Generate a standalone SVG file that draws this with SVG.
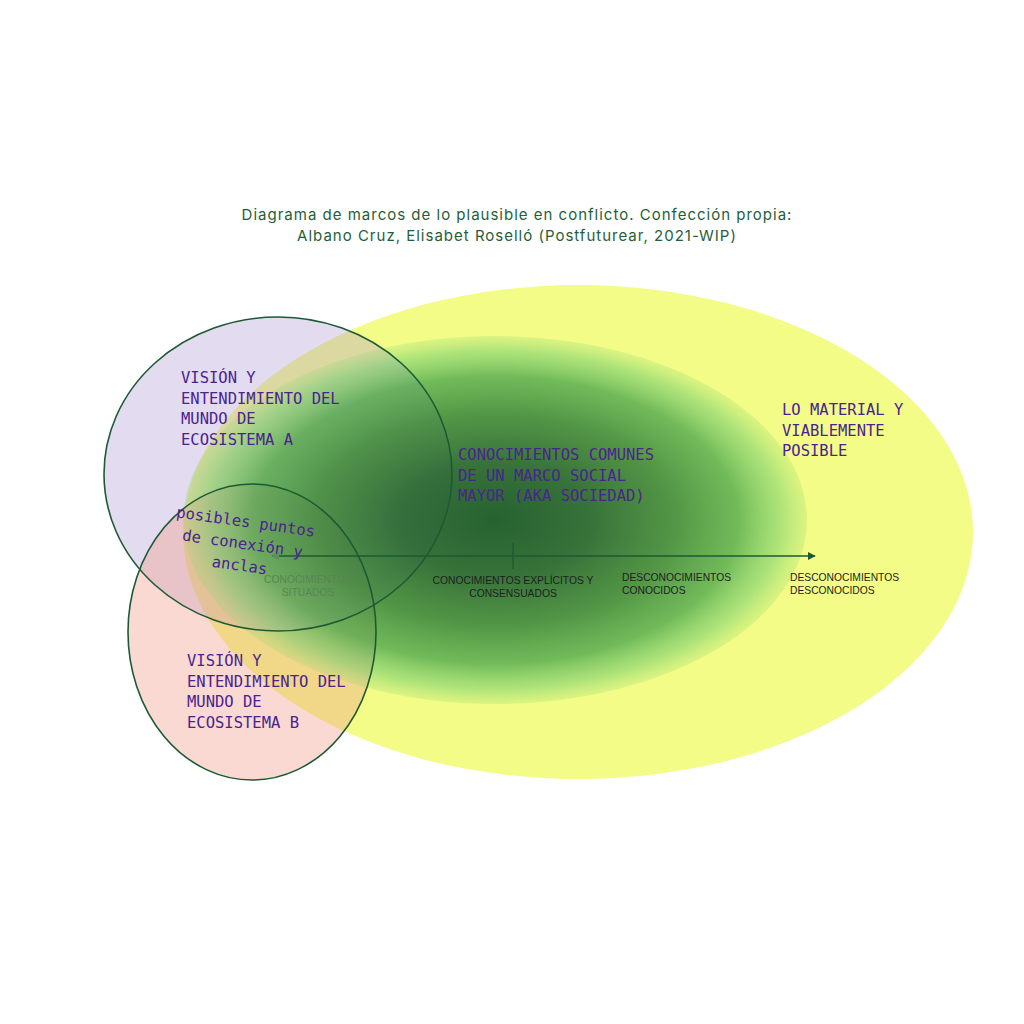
<svg xmlns="http://www.w3.org/2000/svg" width="1024" height="1024" viewBox="0 0 1024 1024">
<style>
.title{font-family:Inter,"Liberation Sans",sans-serif;font-size:15px;letter-spacing:1px;fill:#1f6038;text-anchor:middle}
.mono{font-family:"DejaVu Sans Mono","Liberation Mono",monospace;font-size:15.5px;fill:#4a2390}
.lab{font-family:"Liberation Sans",Arial,sans-serif;font-size:10.3px;fill:#1e1e1e}
.frame{fill:none;stroke:#1d5a34;stroke-width:1.6}
</style>
<defs>
<radialGradient id="g" cx="0.5" cy="0.5" r="0.5">
<stop offset="0" stop-color="#17572a" stop-opacity="0.93"/>
<stop offset="0.3" stop-color="#246432" stop-opacity="0.91"/>
<stop offset="0.58" stop-color="#3a863c" stop-opacity="0.86"/>
<stop offset="0.78" stop-color="#3a9e46" stop-opacity="0.7"/>
<stop offset="0.92" stop-color="#5cc66a" stop-opacity="0.45"/>
<stop offset="1" stop-color="#8ad670" stop-opacity="0.22"/>
</radialGradient>
<marker id="ah" viewBox="0 0 10 10" refX="9" refY="5" markerWidth="8" markerHeight="8" markerUnits="userSpaceOnUse" orient="auto">
<path d="M0,0 L10,5 L0,10 z" fill="#1d5a34"/>
</marker>
<marker id="ahl" viewBox="0 0 10 10" refX="9" refY="5" markerWidth="8" markerHeight="8" markerUnits="userSpaceOnUse" orient="auto-start-reverse">
<path d="M0,0 L10,5 L0,10 z" fill="#5f8f5a"/>
</marker>
</defs>
<rect width="1024" height="1024" fill="#ffffff"/>
<text class="title" x="517" y="220">Diagrama de marcos de lo plausible en conflicto. Confección propia:</text>
<text class="title" x="517" y="241">Albano Cruz, Elisabet Roselló (Postfuturear, 2021-WIP)</text>
<g id="material">
<ellipse cx="578" cy="532" rx="395" ry="247" fill="#f2fc86"/>
</g>
<g id="fills">
<ellipse cx="278" cy="474" rx="174" ry="157" fill="#b29bd4" fill-opacity="0.36"/>
<ellipse cx="252" cy="632" rx="124" ry="148" fill="#ef9f8c" fill-opacity="0.4"/>
</g>
<g id="sociedad">
<ellipse cx="495" cy="520" rx="312" ry="184" fill="url(#g)"/>
</g>
<g id="ecosistema-a">
<ellipse class="frame" cx="278" cy="474" rx="174" ry="157"/>
</g>
<g id="ecosistema-b">
<ellipse class="frame" cx="252" cy="632" rx="124" ry="148"/>
</g>
<g id="connectors">
<line x1="272" y1="556" x2="815" y2="556" stroke="#1d5a34" stroke-width="1.6" marker-start="url(#ahl)" marker-end="url(#ah)"/>
<line x1="513" y1="543" x2="513" y2="569" stroke="#1d5a34" stroke-width="1.4"/>
</g>
<g id="labels">
<text class="lab" x="513" y="584" text-anchor="middle">CONOCIMIENTOS EXPLÍCITOS Y</text>
<text class="lab" x="513" y="597" text-anchor="middle">CONSENSUADOS</text>
<text class="lab" x="622" y="581">DESCONOCIMIENTOS</text>
<text class="lab" x="622" y="594">CONOCIDOS</text>
<text class="lab" x="790" y="581">DESCONOCIMIENTOS</text>
<text class="lab" x="790" y="594">DESCONOCIDOS</text>
<text class="lab" x="308" y="583" text-anchor="middle" style="fill:#5a8456">CONOCIMIENTOS</text>
<text class="lab" x="308" y="596" text-anchor="middle" style="fill:#5a8456">SITUADOS</text>
</g>
<g id="texts">
<text class="mono" x="181" y="383">VISIÓN Y</text>
<text class="mono" x="181" y="403.5">ENTENDIMIENTO DEL</text>
<text class="mono" x="181" y="424">MUNDO DE</text>
<text class="mono" x="181" y="444.5">ECOSISTEMA A</text>
<text class="mono" x="458" y="460">CONOCIMIENTOS COMUNES</text>
<text class="mono" x="458" y="480.5">DE UN MARCO SOCIAL</text>
<text class="mono" x="458" y="501">MAYOR (AKA SOCIEDAD)</text>
<text class="mono" x="782" y="415">LO MATERIAL Y</text>
<text class="mono" x="782" y="435.5">VIABLEMENTE</text>
<text class="mono" x="782" y="456">POSIBLE</text>
<text class="mono" x="187" y="666">VISIÓN Y</text>
<text class="mono" x="187" y="686.5">ENTENDIMIENTO DEL</text>
<text class="mono" x="187" y="707">MUNDO DE</text>
<text class="mono" x="187" y="727.5">ECOSISTEMA B</text>
<g transform="translate(245,527) rotate(8)">
<text class="mono" x="0" y="0" text-anchor="middle">posibles puntos</text>
<text class="mono" x="0" y="22" text-anchor="middle">de conexión y</text>
<text class="mono" x="0" y="44" text-anchor="middle">anclas</text>
</g>
</g>
</svg>
